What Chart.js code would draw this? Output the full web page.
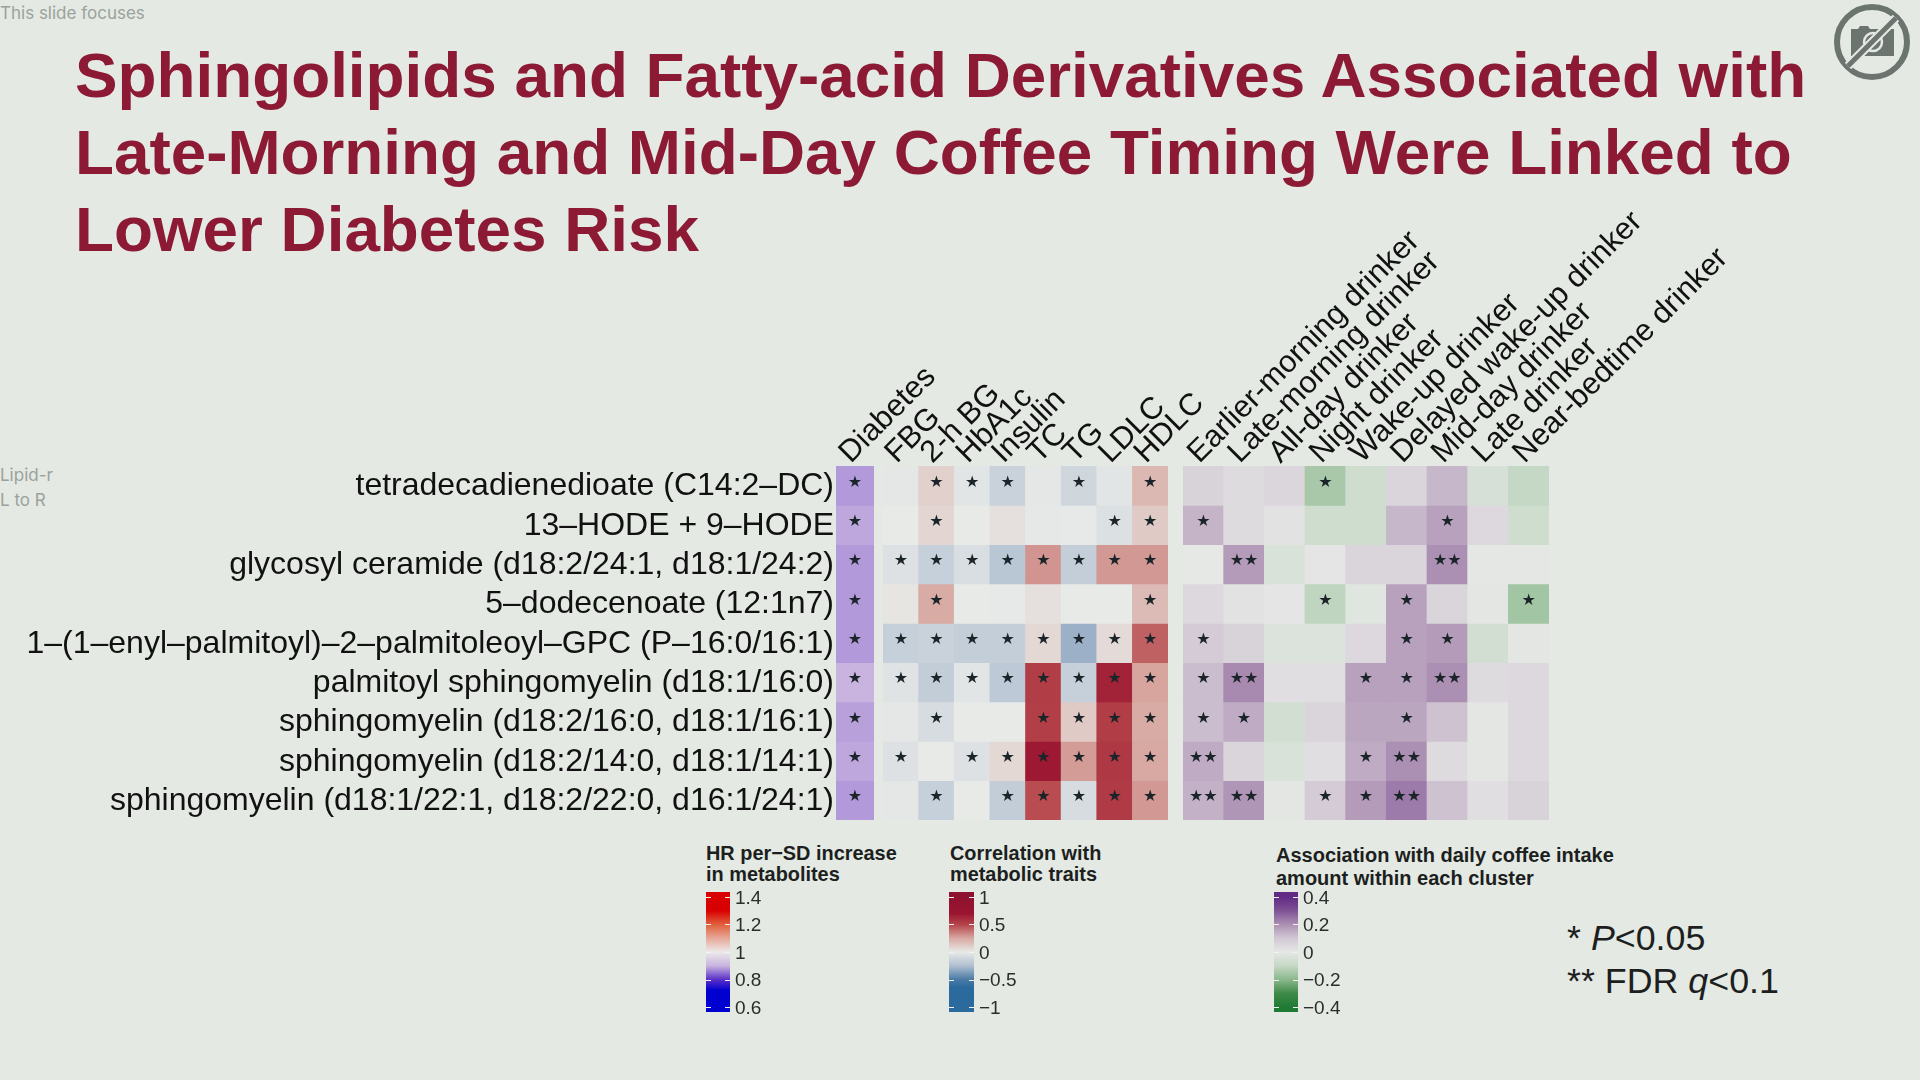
<!DOCTYPE html>
<html>
<head>
<meta charset="utf-8">
<script src="https://cdn.jsdelivr.net/npm/chart.js@4"></script>
<style>
html, body { margin: 0; width: 1920px; height: 1080px; overflow: hidden; background: #e4e9e3; }
canvas { position: absolute; left: 0; top: 0; }
.txt { position: absolute; white-space: pre; font-family: "Liberation Sans", sans-serif; }
#title { left: 75px; top: 37px; font-size: 63.8px; line-height: 77px; font-weight: bold; color: #8c1a35; }
.ghost { font-family: Inter, sans-serif; font-size: 17px; color: #9aa29c; left: 0; }
.legTitle { font-weight: bold; font-size: 19.9px; line-height: 21px; color: #1c1f1e; }
.note { font-size: 35.8px; color: #1c1f1e; left: 1567px; }
</style>
</head>
<body>
<div class="txt" id="title">Sphingolipids and Fatty-acid Derivatives Associated with
Late-Morning and Mid-Day Coffee Timing Were Linked to
Lower Diabetes Risk</div>
<div class="txt ghost" style="top:3px">This slide focuses</div>
<div class="txt ghost" style="top:465px">Lipid-r</div>
<div class="txt ghost" style="top:490px">L to R</div>
<svg style="position:absolute;left:1830px;top:0" width="90" height="84" viewBox="0 0 90 84">
  <circle cx="42" cy="42" r="35" fill="none" stroke="#6c7470" stroke-width="6"/>
  <path d="M21 29h7l2-3h8l2 3h24v27H21z" fill="#6c7470"/>
  <circle cx="43" cy="42" r="9" fill="none" stroke="#e4e9e3" stroke-width="2.5"/>
  <line x1="18" y1="66" x2="66" y2="18" stroke="#e4e9e3" stroke-width="9"/>
  <line x1="18" y1="66" x2="66" y2="18" stroke="#6c7470" stroke-width="5"/>
</svg>
<div class="txt legTitle" style="left:706px;top:843px">HR per−SD increase
in metabolites</div>
<div class="txt legTitle" style="left:950px;top:843px">Correlation with
metabolic traits</div>
<div class="txt legTitle" style="left:1276px;top:844px;font-size:20px;line-height:23px">Association with daily coffee intake
amount within each cluster</div>
<div class="txt note" style="top:918px">* <i>P</i>&lt;0.05</div>
<div class="txt note" style="top:961px">** FDR <i>q</i>&lt;0.1</div>

<canvas id="hrChart" width="1920" height="1080"></canvas>
<canvas id="traitChart" width="1920" height="1080"></canvas>
<canvas id="coffeeChart" width="1920" height="1080"></canvas>
<canvas id="hrBar" width="1920" height="1080"></canvas>
<canvas id="traitBar" width="1920" height="1080"></canvas>
<canvas id="coffeeBar" width="1920" height="1080"></canvas>

<script>
// rows of the heatmap, top to bottom
const rows = [
  "tetradecadienedioate (C14:2–DC)",
  "13–HODE + 9–HODE",
  "glycosyl ceramide (d18:2/24:1, d18:1/24:2)",
  "5–dodecenoate (12:1n7)",
  "1–(1–enyl–palmitoyl)–2–palmitoleoyl–GPC (P–16:0/16:1)",
  "palmitoyl sphingomyelin (d18:1/16:0)",
  "sphingomyelin (d18:2/16:0, d18:1/16:1)",
  "sphingomyelin (d18:2/14:0, d18:1/14:1)",
  "sphingomyelin (d18:1/22:1, d18:2/22:0, d16:1/24:1)"
];
const rowTicks = [0.5, 1.5, 2.5, 3.5, 4.5, 5.5, 6.5, 7.5, 8.5];

const hrCols = ["Diabetes"];
const traitCols = ["FBG", "2-h BG", "HbA1c", "Insulin", "TC", "TG", "LDLC", "HDLC"];
const coffeeCols = ["Earlier-morning drinker", "Late-morning drinker", "All-day drinker", "Night drinker",
  "Wake-up drinker", "Delayed wake-up drinker", "Mid-day drinker", "Late drinker", "Near-bedtime drinker"];

const hrValues = [[0.88], [0.89], [0.88], [0.88], [0.88], [0.9], [0.885], [0.89], [0.88]];
const hrStars = [[1], [1], [1], [1], [1], [1], [1], [1], [1]];

const traitValues = [
  [-0.02, 0.10, -0.03, -0.14, -0.02, -0.11, -0.03, 0.19],
  [0, 0.08, 0, 0.04, -0.01, -0.005, -0.06, 0.12],
  [-0.05, -0.15, -0.07, -0.21, 0.30, -0.16, 0.29, 0.29],
  [0.02, 0.24, 0, -0.005, 0.04, 0, 0, 0.18],
  [-0.15, -0.14, -0.16, -0.16, 0.07, -0.30, 0.06, 0.43],
  [-0.04, -0.17, -0.03, -0.19, 0.53, -0.15, 0.64, 0.26],
  [-0.02, -0.08, 0, 0, 0.52, 0.12, 0.53, 0.24],
  [-0.05, 0, -0.05, 0.07, 0.68, 0.28, 0.55, 0.25],
  [-0.02, -0.15, 0, -0.17, 0.48, -0.08, 0.54, 0.29]
];
const traitStars = [
  [0, 1, 1, 1, 0, 1, 0, 1],
  [0, 1, 0, 0, 0, 0, 1, 1],
  [1, 1, 1, 1, 1, 1, 1, 1],
  [0, 1, 0, 0, 0, 0, 0, 1],
  [1, 1, 1, 1, 1, 1, 1, 1],
  [1, 1, 1, 1, 1, 1, 1, 1],
  [0, 1, 0, 0, 1, 1, 1, 1],
  [1, 0, 1, 1, 1, 1, 1, 1],
  [0, 1, 0, 1, 1, 1, 1, 1]
];

const coffeeValues = [
  [0.07, 0.04, 0.055, -0.15, -0.07, 0.06, 0.13, -0.05, -0.10],
  [0.135, 0.04, 0.02, -0.07, -0.07, 0.13, 0.17, 0.05, -0.07],
  [0, 0.18, -0.04, 0.01, 0.06, 0.06, 0.20, -0.005, -0.005],
  [0.05, 0.02, 0.01, -0.11, -0.02, 0.17, 0.06, -0.01, -0.16],
  [0.09, 0.07, -0.03, -0.03, 0.05, 0.17, 0.18, -0.06, -0.01],
  [0.12, 0.21, 0.03, 0.03, 0.17, 0.17, 0.20, 0.04, 0.05],
  [0.12, 0.15, -0.06, 0.06, 0.16, 0.16, 0.11, -0.01, 0.05],
  [0.15, 0.06, -0.04, 0.03, 0.15, 0.20, 0.04, -0.01, 0.05],
  [0.14, 0.19, -0.01, 0.09, 0.18, 0.235, 0.11, 0.03, 0.07]
];
const coffeeStars = [
  [0, 0, 0, 1, 0, 0, 0, 0, 0],
  [1, 0, 0, 0, 0, 0, 1, 0, 0],
  [0, 2, 0, 0, 0, 0, 2, 0, 0],
  [0, 0, 0, 1, 0, 1, 0, 0, 1],
  [1, 0, 0, 0, 0, 1, 1, 0, 0],
  [1, 2, 0, 0, 1, 1, 2, 0, 0],
  [1, 1, 0, 0, 0, 1, 0, 0, 0],
  [2, 0, 0, 0, 1, 2, 0, 0, 0],
  [2, 2, 0, 1, 1, 2, 0, 0, 0]
];

// colour scales
const hrStops = [[0.6, "#0000d0"], [0.72, "#0000d0"], [0.8, "#5a30c8"], [0.9, "#c8b4de"], [1, "#eceaea"],
  [1.1, "#e6a898"], [1.2, "#e0603c"], [1.3, "#d80000"], [1.4, "#d80000"]];
const traitStops = [[-1, "#2a6a9c"], [-0.65, "#2a6a9c"], [-0.5, "#4a7aa5"], [-0.25, "#b0bfd0"], [0, "#e8eae8"],
  [0.25, "#d8a8a2"], [0.5, "#b5444a"], [0.7, "#9a1430"], [1, "#8e1230"]];
const coffeeStops = [[-0.4, "#1f7a35"], [-0.3, "#3f8a48"], [-0.2, "#8ab88c"], [-0.1, "#c5d8c5"], [0, "#e6e8e6"],
  [0.1, "#d2c8d4"], [0.2, "#ac90b3"], [0.3, "#7f5296"], [0.4, "#622a85"]];

const hrTicks = [0.6, 0.8, 1, 1.2, 1.4];
const traitTicks = [-1, -0.5, 0, 0.5, 1];
const coffeeTicks = [-0.4, -0.2, 0, 0.2, 0.4];

function hex(c) {
  return [parseInt(c.slice(1, 3), 16), parseInt(c.slice(3, 5), 16), parseInt(c.slice(5, 7), 16)];
}

function colorFor(stops, v) {
  for (let i = 1; i < stops.length; i++) {
    if (v <= stops[i][0]) {
      const t = (v - stops[i - 1][0]) / (stops[i][0] - stops[i - 1][0]);
      const a = hex(stops[i - 1][1]), b = hex(stops[i][1]);
      return `rgb(${a.map((x, k) => Math.round(x + (b[k] - x) * t)).join(",")})`;
    }
  }
  return stops[stops.length - 1][1];
}

// axes get a fixed size so the plot area lands where the reference has it
function fixedSize(size) {
  return scale => {
    if (scale.isHorizontal()) scale.height = size; else scale.width = size;
    scale.paddingLeft = scale.paddingRight = scale.paddingTop = scale.paddingBottom = 0;
  };
}

const starPlugin = {
  id: "stars",
  afterDatasetsDraw(chart, args, opts) {
    const ctx = chart.ctx;
    ctx.save();
    ctx.font = '16px "DejaVu Sans"';
    ctx.fillStyle = "#1b2428";
    ctx.textAlign = "center";
    ctx.textBaseline = "middle";
    chart.data.datasets.forEach((ds, r) => {
      chart.getDatasetMeta(r).data.forEach((bar, c) => {
        const n = opts.marks[r][c];
        if (n) ctx.fillText("★".repeat(n), bar.x, (bar.y + bar.base) / 2 - 3);
      });
    });
    ctx.restore();
  }
};

function heatmap(id, cols, values, marks, stops, area, showRows) {
  new Chart(document.getElementById(id), {
    type: "bar",
    data: {
      labels: cols,
      datasets: rows.map((name, r) => ({
        label: name,
        data: cols.map(() => 1),
        backgroundColor: ctx => colorFor(stops, values[r][ctx.dataIndex]),
        barPercentage: 1,
        categoryPercentage: 1
      }))
    },
    options: {
      responsive: false,
      animation: false,
      layout: { padding: { left: showRows ? 0 : area[0], top: 0, right: 1920 - area[1], bottom: 1080 - 820 } },
      plugins: { legend: { display: false }, tooltip: { enabled: false }, stars: { marks } },
      scales: {
        x: {
          position: "top",
          stacked: true,
          afterFit: fixedSize(466),
          grid: { display: false, drawTicks: false },
          border: { display: false },
          ticks: { autoSkip: false, minRotation: 45, maxRotation: 45, padding: -5, labelOffset: 16, color: "#111",
            font: { family: "Liberation Sans", size: 30.8 } }
        },
        y: {
          stacked: true,
          reverse: true,
          min: 0,
          max: 9,
          display: showRows,
          afterFit: showRows ? fixedSize(area[0]) : undefined,
          afterBuildTicks: s => { s.ticks = rowTicks.map(value => ({ value })); },
          grid: { display: false, drawTicks: false },
          border: { display: false },
          ticks: { autoSkip: false, padding: 2, labelOffset: 1, color: "#111",
            callback: (v, i) => rows[i],
            font: { family: "Liberation Sans", size: 32 } }
        }
      }
    },
    plugins: [starPlugin]
  });
}

const dashPlugin = {
  id: "dashes",
  afterDatasetsDraw(chart, args, opts) {
    const ctx = chart.ctx, a = chart.chartArea;
    ctx.save();
    ctx.strokeStyle = "#f2f2f2";
    ctx.lineWidth = 1;
    opts.values.forEach(v => {
      const y = Math.round(chart.scales.y.getPixelForValue(v)) + 0.5;
      [[a.left, a.left + 5], [a.right - 5, a.right]].forEach(([x0, x1]) => {
        ctx.beginPath();
        ctx.moveTo(x0, y);
        ctx.lineTo(x1, y);
        ctx.stroke();
      });
    });
    ctx.restore();
  }
};

function colorbar(id, stops, ticks, pad, area) {
  const min = ticks[0] - pad, max = ticks[ticks.length - 1] + pad;
  new Chart(document.getElementById(id), {
    type: "bar",
    data: {
      labels: [""],
      datasets: [{
        data: [[min, max]],
        barPercentage: 1,
        categoryPercentage: 1,
        backgroundColor: ctx => {
          const c = ctx.chart;
          if (!c.chartArea) return stops[0][1];
          const g = c.ctx.createLinearGradient(0, c.scales.y.getPixelForValue(max), 0, c.scales.y.getPixelForValue(min));
          stops.forEach(s => g.addColorStop(Math.min(1, Math.max(0, (max - s[0]) / (max - min))), s[1]));
          return g;
        }
      }]
    },
    options: {
      responsive: false,
      animation: false,
      layout: { padding: { left: area[0], top: 892, right: 1920 - area[1] - 100, bottom: 1080 - 1012 } },
      plugins: { legend: { display: false }, tooltip: { enabled: false }, dashes: { values: ticks } },
      scales: {
        x: { display: false },
        y: {
          position: "right",
          min,
          max,
          afterFit: fixedSize(100),
          afterBuildTicks: s => { s.ticks = ticks.map(value => ({ value })); },
          grid: { display: false, drawTicks: false },
          border: { display: false },
          ticks: { autoSkip: false, padding: 5, labelOffset: 1.5, color: "#2a2d2c",
            callback: v => String(v).replace("-", "−"),
            font: { family: "Liberation Sans", size: 19 } }
        }
      }
    },
    plugins: [dashPlugin]
  });
}

heatmap("hrChart", hrCols, hrValues, hrStars, hrStops, [836, 874], true);
heatmap("traitChart", traitCols, traitValues, traitStars, traitStops, [883, 1168], false);
heatmap("coffeeChart", coffeeCols, coffeeValues, coffeeStars, coffeeStops, [1183, 1549], false);

colorbar("hrBar", hrStops, hrTicks, 0.036, [706, 730]);
colorbar("traitBar", traitStops, traitTicks, 0.09, [949, 974]);
colorbar("coffeeBar", coffeeStops, coffeeTicks, 0.036, [1274, 1298]);
</script>
</body>
</html>
